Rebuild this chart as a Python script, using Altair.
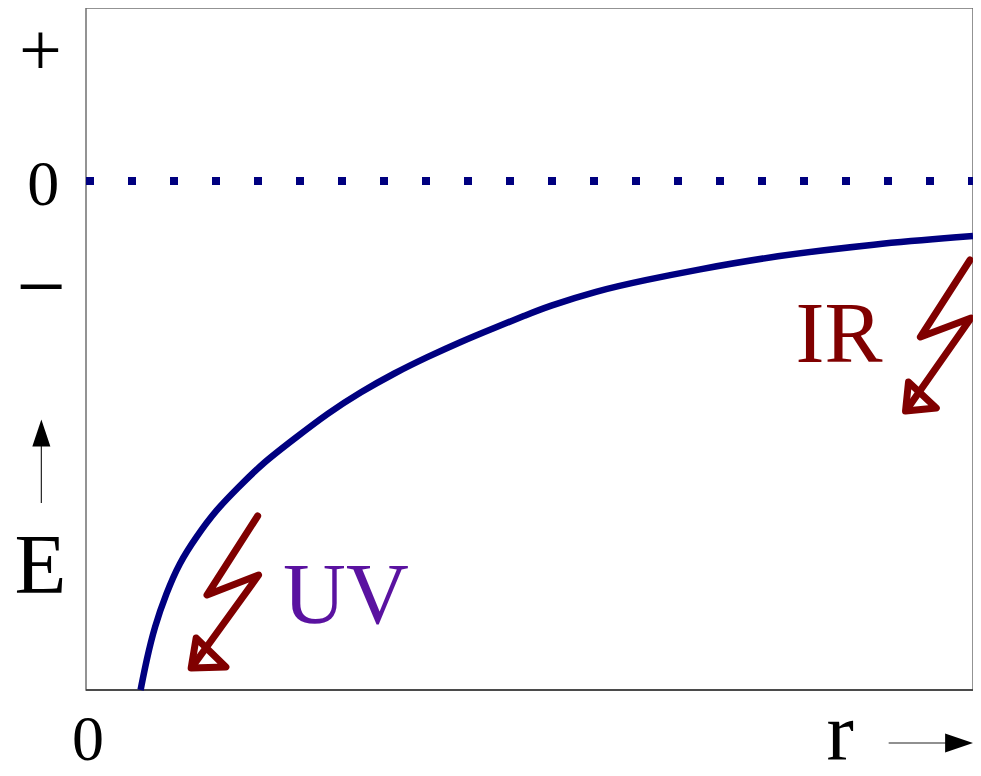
import altair as alt
import pandas as pd

# Potential-energy curve E(r) (r measured from left frame, E relative to zero level)
curve_r = [55, 61, 69, 81, 94, 111, 131, 154, 177, 211, 244, 277, 311, 344, 377, 411, 444, 464, 514, 564, 614, 694, 794, 894]
curve_E = [-509, -479, -446, -412, -382, -356, -329, -306, -283, -257, -232, -211, -192, -176, -161, -147, -134, -126, -110, -99, -89, -75, -63, -55]

# zero level line
zero_r = [0, 894]
zero_E = [0, 0]

# lightning bolts (UV and IR) and their open arrowheads
uv_bolt_r = [173, 122, 174, 107]
uv_bolt_E = [-335, -414, -394, -486]
uv_head_r = [106, 111, 141, 106]
uv_head_E = [-487, -457, -486, -487]
ir_bolt_r = [891, 841, 892, 827]
ir_bolt_E = [-79, -156, -137, -229]
ir_head_r = [826, 829, 857, 826]
ir_head_E = [-230, -201, -227, -230]

# tick labels on the energy axis
tick_labels = ["+", "0", "\u2212"]
tick_r = [-46, -43, -45]
tick_E = [106, -24, -135]
tick_size = [76, 64, 88]

# annotation texts
ann_text = ["UV", "IR", "E", "r", "0"]
ann_r = [262, 759, -46, 760, 2]
ann_E = [-442, -181, -412, -579, -579]
ann_size = [87, 87, 85, 82, 64]
ann_color = ["#5a12a0", "#800000", "#000000", "#000000", "#000000"]

# axis direction arrows
e_arrow_r = [-45]
e_arrow_E = [-322, -262]
e_head_E = [-252]
r_arrow_E = [-562]
r_arrow_r = [809, 868]
r_head_r = [880]

XD = [0, 894]
YD = [-509, 173]
FONT = "Liberation Serif"

xs = alt.Scale(domain=XD, nice=False, zero=False)
ys = alt.Scale(domain=YD, nice=False, zero=False)

def X(f="r"):
    return alt.X(f"{f}:Q", scale=xs, axis=None)

def Y(f="E"):
    return alt.Y(f"{f}:Q", scale=ys, axis=None)

curve_df = pd.DataFrame({"r": curve_r, "E": curve_E})
zero_df = pd.DataFrame({"r": zero_r, "E": zero_E})

rows = []
for name, rr, ee in [("uvb", uv_bolt_r, uv_bolt_E), ("uvh", uv_head_r, uv_head_E),
                     ("irb", ir_bolt_r, ir_bolt_E), ("irh", ir_head_r, ir_head_E)]:
    for i, (a, b) in enumerate(zip(rr, ee)):
        rows.append({"g": name, "o": i, "r": a, "E": b})
bolt_df = pd.DataFrame(rows)

tick_df = pd.DataFrame({"t": tick_labels, "r": tick_r, "E": tick_E, "s": tick_size})
ann_df = pd.DataFrame({"t": ann_text, "r": ann_r, "E": ann_E, "s": ann_size, "c": ann_color})

bottom = alt.Chart(pd.DataFrame({"r": [0], "r2": [894], "E": [YD[0]]})).mark_rule(
    color="#333333", strokeWidth=1.5).encode(x=X(), x2="r2:Q", y=Y())

zero_line = alt.Chart(zero_df).mark_line(
    color="#000080", strokeWidth=8, strokeDash=[8, 34], strokeCap="butt").encode(x=X(), y=Y())

curve = alt.Chart(curve_df).mark_line(
    color="#000080", strokeWidth=6.5, interpolate="basis").encode(x=X(), y=Y())

bolts = alt.Chart(bolt_df).mark_line(
    color="#800000", strokeWidth=7, strokeCap="round", strokeJoin="round").encode(
    x=X(), y=Y(), detail="g:N", order="o:Q")

ticks = alt.Chart(tick_df).mark_text(font=FONT, align="center", baseline="alphabetic",
                                     color="black").encode(
    x=X(), y=Y(), text="t:N", size=alt.Size("s:Q", scale=None))

anns = alt.Chart(ann_df).mark_text(font=FONT, align="center", baseline="alphabetic").encode(
    x=X(), y=Y(), text="t:N", size=alt.Size("s:Q", scale=None),
    color=alt.Color("c:N", scale=None))

e_shaft = alt.Chart(pd.DataFrame({"r": e_arrow_r, "E": [e_arrow_E[0]], "E2": [e_arrow_E[1]]})).mark_rule(
    color="#222222", strokeWidth=1.2).encode(x=X(), y=Y(), y2="E2:Q")
e_head = alt.Chart(pd.DataFrame({"r": e_arrow_r, "E": e_head_E})).mark_point(
    shape="M0,-1L0.67,1L-0.67,1Z", size=729, filled=True, color="black", opacity=1).encode(x=X(), y=Y())

r_shaft = alt.Chart(pd.DataFrame({"r": [r_arrow_r[0]], "r2": [r_arrow_r[1]], "E": r_arrow_E})).mark_rule(
    color="#222222", strokeWidth=1.2).encode(x=X(), x2="r2:Q", y=Y())
r_head = alt.Chart(pd.DataFrame({"r": r_head_r, "E": r_arrow_E})).mark_point(
    shape="M1,0L-1,-0.68L-1,0.68Z", size=784, filled=True, color="black", opacity=1).encode(x=X(), y=Y())

chart = alt.layer(bottom, zero_line, curve, bolts, ticks, anns, e_shaft, e_head, r_shaft, r_head).properties(
    width=887, height=682,
    padding={"left": 78, "top": 0, "right": 0, "bottom": 72},
    autosize=alt.AutoSizeParams(type="none"),
    background="white",
).configure_view(stroke="#707070", strokeWidth=1.5)

chart.save("out.html", embed_options={"renderer": "svg", "actions": False})
